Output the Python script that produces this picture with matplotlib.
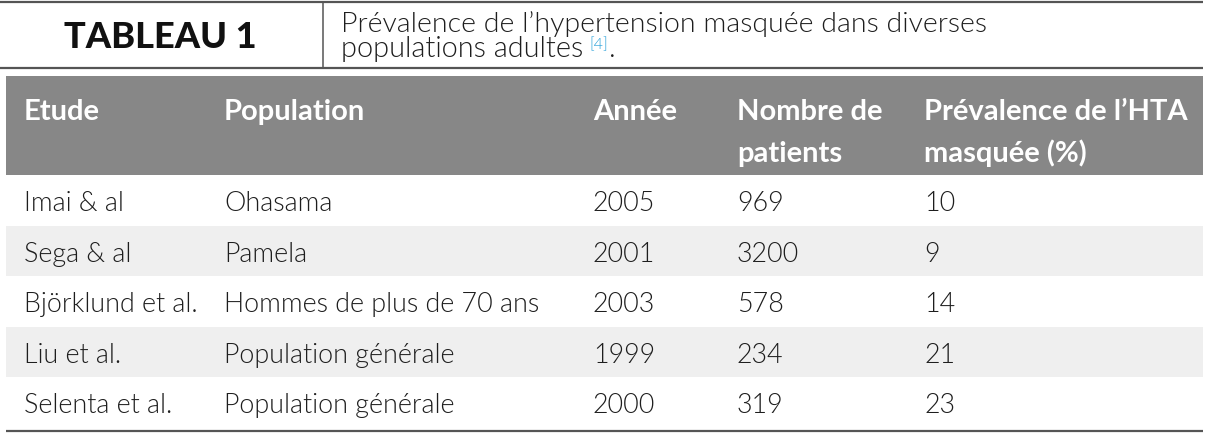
import matplotlib
matplotlib.use("Agg")
import matplotlib.pyplot as plt
from matplotlib.patches import Rectangle

# ---- data ----
title = "TABLEAU 1"
subtitle_line1 = "Prévalence de l\u2019hypertension masquée dans diverses"
subtitle_line2 = "populations adultes "
subtitle_ref = "[4]"
columns = [["Etude"], ["Population"], ["Année"], ["Nombre de", "patients"],
           ["Prévalence de l\u2019HTA", "masquée (%)"]]
etudes = ["Imai & al", "Sega & al", "Björklund et al.", "Liu et al.", "Selenta et al."]
populations = ["Ohasama", "Pamela", "Hommes de plus de 70 ans",
               "Population générale", "Population générale"]
annees = [2005, 2001, 2003, 1999, 2000]
patients = [969, 3200, 578, 234, 319]
prevalence = [10, 9, 14, 21, 23]

# ---- layout (pixels) ----
W, H = 1209, 439
FONT = ["Lato", "DejaVu Sans"]
LIGHT = 300
col_x = [24, 224, 593, 737, 924]
left, right = 6, 1203
head_top, head_bot = 77, 176
row_h = 50.6
line_col = "#555555"
head_col = "#878787"
alt_col = "#efefef"
txt_col = "#1e1e1e"

fig = plt.figure(figsize=(W / 100, H / 100), dpi=100)
ax = fig.add_axes([0, 0, 1, 1])
ax.set_xlim(0, W)
ax.set_ylim(H, 0)
ax.axis("off")

# top band
ax.plot([0, right], [2.5, 2.5], color=line_col, lw=1.6, solid_capstyle="butt")
ax.plot([0, right], [68.5, 68.5], color=line_col, lw=1.6, solid_capstyle="butt")
ax.plot([322.5, 322.5], [2.5, 68.5], color=line_col, lw=1.1)
ax.text(160, 48, title, fontsize=26, fontweight="black", family=FONT,
        ha="center", va="baseline", color="#111111")
ax.text(341, 31.7, subtitle_line1, fontsize=20.5, fontweight=LIGHT,
        family=FONT, ha="left", va="baseline", color=txt_col)
t2 = ax.text(341, 56.7, subtitle_line2, fontsize=20.8, fontweight=LIGHT,
             family=FONT, ha="left", va="baseline", color=txt_col)
fig.canvas.draw()
x_end = t2.get_window_extent().x1
ref = ax.annotate(subtitle_ref, xy=(x_end - 2, 49),
                  xycoords=("figure pixels", "data"),
                  fontsize=11.5, fontweight=LIGHT, family=FONT,
                  ha="left", va="baseline", color="#1a9ad6")
fig.canvas.draw()
rb = ref.get_window_extent()
ax.annotate(".", xy=(rb.x1 + 1, 56.7), xycoords=("figure pixels", "data"),
            fontsize=20.5, fontweight=LIGHT, family=FONT,
            ha="left", va="baseline", color=txt_col)

# header
ax.add_patch(Rectangle((left, head_top), right - left, head_bot - head_top,
                       color=head_col, lw=0))
for x, lines in zip(col_x, columns):
    for j, s in enumerate(lines):
        ax.text(x, 120 + 42 * j, s, fontsize=21, fontweight="bold", family=FONT,
                ha="left", va="baseline", color="white")

# rows
rows = list(zip(etudes, populations, annees, patients, prevalence))
for i, r in enumerate(rows):
    top = head_bot + i * row_h
    if i % 2 == 1:
        ax.add_patch(Rectangle((left, top), right - left, row_h,
                               color=alt_col, lw=0))
    for x, v in zip(col_x, r):
        ax.text(x, top + 35, str(v), fontsize=19.4, fontweight=LIGHT,
                family=FONT, ha="left", va="baseline", color=txt_col)

bottom = head_bot + len(rows) * row_h + 3
ax.plot([left, right], [bottom, bottom], color=line_col, lw=1.6,
        solid_capstyle="butt")

fig.savefig("out.png", dpi=100, facecolor="white")
